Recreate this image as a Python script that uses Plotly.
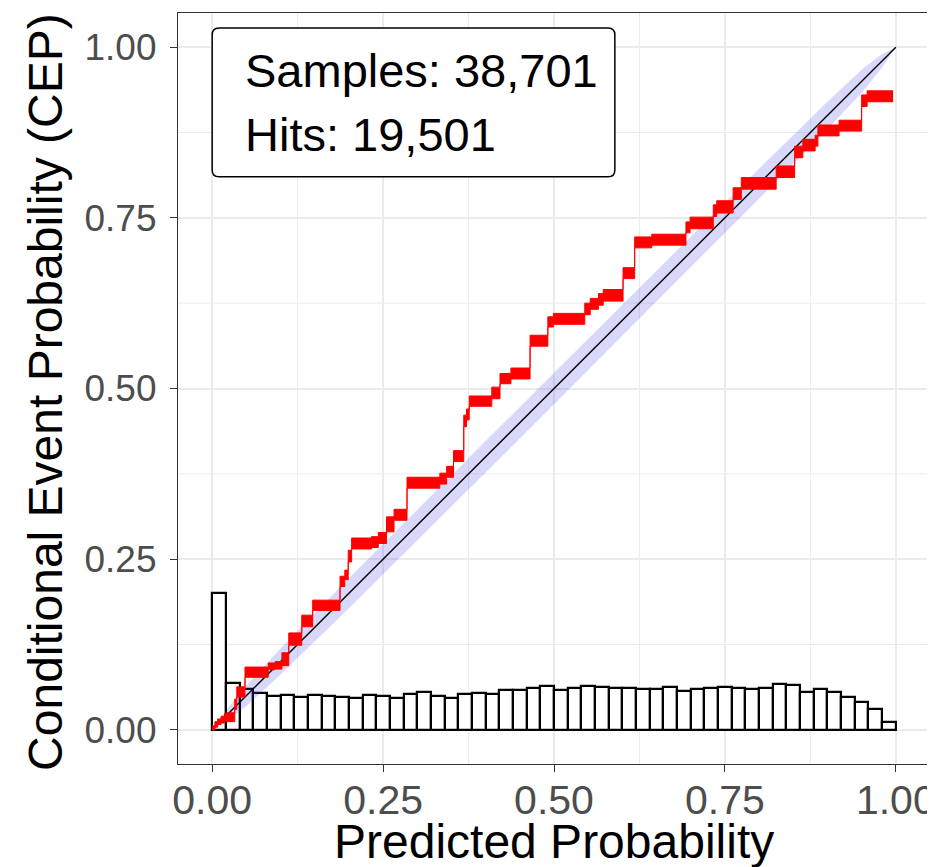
import plotly.graph_objects as go

# ---------------- data ----------------
hist_left = [i * 0.02 for i in range(50)]  # bin left edges (bin width 0.02)
hist_height = [0.201, 0.068, 0.060, 0.054, 0.050, 0.051, 0.048, 0.051, 0.050, 0.048,
               0.046, 0.051, 0.050, 0.047, 0.053, 0.055, 0.050, 0.047, 0.052, 0.054,
               0.053, 0.058, 0.058, 0.062, 0.064, 0.059, 0.062, 0.064, 0.063, 0.061,
               0.061, 0.060, 0.060, 0.063, 0.057, 0.060, 0.062, 0.063, 0.061, 0.060,
               0.061, 0.067, 0.065, 0.056, 0.060, 0.056, 0.048, 0.041, 0.030, 0.011]
bin_width = 0.02

# CEP step function: start of each step, lower and upper edge
cep_x = [0.000, 0.004, 0.008, 0.013, 0.018, 0.021, 0.033, 0.036, 0.048, 0.082,
         0.092, 0.102, 0.112, 0.131, 0.147, 0.187, 0.194, 0.199, 0.204, 0.233,
         0.243, 0.255, 0.266, 0.285, 0.333, 0.343, 0.353, 0.368, 0.372, 0.376,
         0.409, 0.421, 0.437, 0.465, 0.491, 0.499, 0.545, 0.553, 0.565, 0.572,
         0.601, 0.618, 0.643, 0.693, 0.699, 0.733, 0.738, 0.762, 0.774, 0.825,
         0.852, 0.864, 0.882, 0.886, 0.917, 0.950, 0.958]
cep_lo = [0.000, 0.004, 0.008, 0.010, 0.013, 0.012, 0.030, 0.048, 0.077, 0.088,
          0.089, 0.094, 0.124, 0.151, 0.175, 0.210, 0.220, 0.246, 0.265, 0.267,
          0.273, 0.290, 0.307, 0.354, 0.360, 0.370, 0.393, 0.444, 0.454, 0.474,
          0.485, 0.507, 0.514, 0.562, 0.590, 0.594, 0.608, 0.616, 0.622, 0.628,
          0.661, 0.706, 0.710, 0.728, 0.734, 0.752, 0.757, 0.777, 0.792, 0.809,
          0.838, 0.848, 0.855, 0.870, 0.877, 0.913, 0.920]
cep_hi = [0.006, 0.012, 0.016, 0.020, 0.024, 0.025, 0.045, 0.063, 0.092, 0.098,
          0.100, 0.113, 0.142, 0.168, 0.190, 0.225, 0.234, 0.263, 0.281, 0.283,
          0.289, 0.312, 0.323, 0.370, 0.376, 0.386, 0.409, 0.461, 0.470, 0.489,
          0.502, 0.522, 0.530, 0.578, 0.605, 0.610, 0.625, 0.632, 0.639, 0.645,
          0.677, 0.722, 0.726, 0.744, 0.751, 0.769, 0.775, 0.794, 0.809, 0.826,
          0.855, 0.865, 0.871, 0.886, 0.893, 0.930, 0.936]
cep_x_end = 0.996

# consistency band around the diagonal
band_x = [0.0, 0.02, 0.05, 0.10, 0.20, 0.30, 0.40, 0.50, 0.60, 0.70, 0.80, 0.90, 0.95, 0.98, 1.0]
band_lo = [0.0, 0.012, 0.035, 0.081, 0.178, 0.277, 0.377, 0.477, 0.577, 0.677, 0.778, 0.880, 0.933, 0.970, 1.0]
band_hi = [0.0, 0.028, 0.065, 0.119, 0.222, 0.323, 0.423, 0.523, 0.623, 0.723, 0.822, 0.920, 0.967, 0.990, 1.0]

tick_vals = [0, 0.25, 0.5, 0.75, 1.0]
tick_text = ["0.00", "0.25", "0.50", "0.75", "1.00"]
minor_vals = [0.125, 0.375, 0.625, 0.875]

n_samples = "38,701"
n_hits = "19,501"
x_title = "Predicted Probability"
y_title = "Conditional Event Probability (CEP)"

FONT = "Liberation Sans, Arial, Helvetica, sans-serif"

fig = go.Figure()

# histogram
fig.add_trace(go.Bar(
    x=[l + bin_width / 2 for l in hist_left], y=hist_height, width=bin_width,
    marker=dict(color="white", line=dict(color="black", width=2.2)),
    hoverinfo="skip", showlegend=False))

# consistency band
fig.add_trace(go.Scatter(x=band_x, y=band_lo, mode="lines", line=dict(width=0),
                         showlegend=False, hoverinfo="skip"))
fig.add_trace(go.Scatter(x=band_x, y=band_hi, mode="lines", line=dict(width=0),
                         fill="tonexty", fillcolor="rgba(60,60,235,0.20)",
                         showlegend=False, hoverinfo="skip"))

# diagonal
fig.add_trace(go.Scatter(x=[0, 1], y=[0, 1], mode="lines",
                         line=dict(color="black", width=1.4),
                         showlegend=False, hoverinfo="skip"))

# CEP step band
xs = cep_x + [cep_x_end]
fig.add_trace(go.Scatter(x=xs, y=cep_lo + [cep_lo[-1]], mode="lines",
                         line=dict(color="red", width=1, shape="hv"),
                         showlegend=False, hoverinfo="skip"))
fig.add_trace(go.Scatter(x=xs, y=cep_hi + [cep_hi[-1]], mode="lines",
                         line=dict(color="red", width=1, shape="hv"),
                         fill="tonexty", fillcolor="red",
                         showlegend=False, hoverinfo="skip"))

grid_col = "#ebebeb"
# minor grid lines
for v in minor_vals:
    fig.add_shape(type="line", x0=v, x1=v, y0=0, y1=1, xref="x", yref="paper",
                  line=dict(color=grid_col, width=1), layer="below")
    fig.add_shape(type="line", y0=v, y1=v, x0=0, x1=1, yref="y", xref="paper",
                  line=dict(color=grid_col, width=1), layer="below")

# legend box with rounded corners (data coords)
bx0, bx1, by0, by1 = 0.0, 0.589, 0.81, 1.028
rx, ry = 0.010, 0.010
path = (f"M {bx0+rx},{by0} L {bx1-rx},{by0} Q {bx1},{by0} {bx1},{by0+ry} "
        f"L {bx1},{by1-ry} Q {bx1},{by1} {bx1-rx},{by1} "
        f"L {bx0+rx},{by1} Q {bx0},{by1} {bx0},{by1-ry} "
        f"L {bx0},{by0+ry} Q {bx0},{by0} {bx0+rx},{by0} Z")
fig.add_shape(type="path", path=path, xref="x", yref="y",
              line=dict(color="black", width=1.5), fillcolor="white", layer="above")

fig.add_annotation(x=0.045, y=0.966, xref="x", yref="y", text=f"Samples: {n_samples}",
                   showarrow=False, xanchor="left", yanchor="middle",
                   font=dict(family=FONT, size=47, color="black"))
fig.add_annotation(x=0.045, y=0.872, xref="x", yref="y", text=f"Hits: {n_hits}",
                   showarrow=False, xanchor="left", yanchor="middle",
                   font=dict(family=FONT, size=47, color="black"))

# axis titles
fig.add_annotation(x=0.5, y=-0.103, xref="paper", yref="paper", text=x_title,
                   showarrow=False, xanchor="center", yanchor="middle",
                   font=dict(family=FONT, size=48, color="black"))
fig.add_annotation(x=-0.176, y=0.495, xref="paper", yref="paper", text=y_title,
                   showarrow=False, xanchor="center", yanchor="middle", textangle=-90,
                   font=dict(family=FONT, size=48, color="black"))

axis_common = dict(
    range=[-0.05, 1.05], tickvals=tick_vals, ticktext=tick_text,
    showgrid=True, gridcolor=grid_col, gridwidth=2, automargin=False,
    zeroline=False, showline=True, linecolor="#333333", linewidth=1.2, mirror=True,
    ticks="outside", ticklen=7, tickcolor="#333333", tickwidth=1.2,
)

# the page adds an 8 px body margin, so the figure is offset accordingly
fig.update_layout(
    width=935, height=862,
    margin=dict(l=170, r=13, t=5, b=106),
    paper_bgcolor="white", plot_bgcolor="white",
    bargap=0, showlegend=False,
    xaxis=dict(axis_common, ticklabelstandoff=-7,
               tickfont=dict(family=FONT, size=41, color="#4d4d4d")),
    yaxis=dict(axis_common, ticklabelstandoff=6,
               tickfont=dict(family=FONT, size=37, color="#4d4d4d")),
)

fig.write_html("out.html")
